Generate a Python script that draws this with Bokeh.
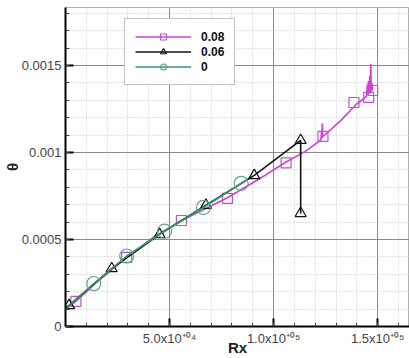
from bokeh.plotting import figure
from bokeh.models import FixedTicker, Range1d, Legend, LegendItem
from bokeh.embed import file_html
from bokeh.resources import INLINE

# ---- data ----
# series "0.08" (magenta): line and square markers
m_line_x = [0, 5000, 15000, 29400, 42000, 55700, 67000, 77800, 92000, 106000, 115000,
            122500, 122800, 123000, 123200, 123400, 123600, 124000, 132000, 140000, 143500,
            144700, 145000, 145200, 145600, 145800, 146200, 146400, 146700, 146900, 147200, 147600]
m_line_y = [0.000098, 0.000144, 0.000255, 0.000397, 0.000510, 0.000609, 0.000675, 0.000740, 0.000840, 0.000945, 0.001005,
            0.001070, 0.001080, 0.001120, 0.001080, 0.001167, 0.001090, 0.001095, 0.001180, 0.001280, 0.001310,
            0.001325, 0.001390, 0.001330, 0.001410, 0.001335, 0.001440, 0.001340, 0.001510, 0.001350, 0.001400, 0.001356]
m_mark_x = [5000, 29400, 55700, 77800, 106000, 123700, 138600, 145700, 147600]
m_mark_y = [0.000144, 0.000397, 0.000609, 0.000736, 0.000940, 0.001092, 0.001287, 0.001316, 0.001356]

# series "0.06" (black): line and triangle markers
b_line_x = [0, 1700, 22200, 45200, 67500, 90700, 113000, 113000]
b_line_y = [0.000105, 0.000121, 0.000333, 0.000529, 0.000697, 0.000868, 0.001070, 0.000650]
b_mark_x = [1700, 22200, 45200, 67500, 90700, 113000, 113000]
b_mark_y = [0.000121, 0.000333, 0.000529, 0.000697, 0.000868, 0.001070, 0.000650]

# series "0" (green): line and circle markers
g_line_x = [0, 1700, 13600, 29400, 47600, 66300, 84400, 87000]
g_line_y = [0.000100, 0.000118, 0.000247, 0.000405, 0.000548, 0.000684, 0.000822, 0.000840]
g_mark_x = [13600, 29400, 47600, 66300, 84400]
g_mark_y = [0.000247, 0.000405, 0.000548, 0.000684, 0.000822]

series_labels = ["0.08", "0.06", "0"]

x_ticks = [50000, 100000, 150000]
x_tick_labels = ["5.0x10\u207a\u2070\u2074", "1.0x10\u207a\u2070\u2075", "1.5x10\u207a\u2070\u2075"]
y_ticks = [0, 0.0005, 0.001, 0.0015]
y_tick_labels = ["0", "0.0005", "0.001", "0.0015"]
x_minor = [i * 10000 for i in range(0, 17)]
y_minor = [i * 0.0001 for i in range(0, 19)]
x_title = "Rx"
y_title = "\u03b8"

MAG = "#d43fd4"
MAG_M = "#b25ac8"
BLK = "#111111"
GRN = "#2f9a6c"
GRN_M = "#5da588"

p = figure(width=409, height=358, output_backend="svg", toolbar_location=None,
           x_range=Range1d(0, 165300), y_range=Range1d(0, 0.001833),
           min_border_left=64, min_border_right=0, min_border_top=7, min_border_bottom=32)

p.background_fill_color = "white"
p.border_fill_color = "white"
p.outline_line_color = "#b0b0b0"

for ax in (p.xaxis[0], p.yaxis[0]):
    ax.axis_line_color = "black"
    ax.axis_line_width = 2
    ax.major_tick_in = 8
    ax.major_tick_out = 0
    ax.major_tick_line_width = 2
    ax.minor_tick_in = 4
    ax.minor_tick_out = 0
    ax.minor_tick_line_color = "#444444"
    ax.major_label_text_font = "Liberation Sans"
    ax.major_label_text_font_size = "13px"
    ax.major_label_text_color = "#444444"
    ax.axis_label_text_font = "Liberation Sans"
    ax.axis_label_text_font_style = "bold"
    ax.axis_label_text_font_size = "15px"
    ax.axis_label_text_color = "#222222"

p.xaxis.ticker = FixedTicker(ticks=x_ticks, minor_ticks=x_minor)
p.yaxis.ticker = FixedTicker(ticks=y_ticks, minor_ticks=y_minor)
p.xaxis.major_label_overrides = dict(zip(x_ticks, x_tick_labels))
p.yaxis.major_label_overrides = dict(zip(y_ticks, y_tick_labels))
p.xaxis.major_label_standoff = 4
p.yaxis.major_label_standoff = 4
p.xaxis.axis_label = x_title
p.yaxis.axis_label = y_title
p.xaxis.axis_label_standoff = -10
p.yaxis.axis_label_standoff = -2

for g in (p.xgrid[0], p.ygrid[0]):
    g.grid_line_color = "#8a8a8a"
    g.grid_line_width = 1
    g.minor_grid_line_color = "#c4c4c4"
    g.minor_grid_line_dash = "1 2"
    g.minor_grid_line_width = 1

ml = p.line(m_line_x, m_line_y, line_color=MAG, line_width=1.6)
mm = p.scatter(m_mark_x, m_mark_y, marker="square", size=10, line_color=MAG_M,
               fill_alpha=0, line_width=1.2)
bl = p.line(b_line_x, b_line_y, line_color=BLK, line_width=1.6)
bm = p.scatter(b_mark_x, b_mark_y, marker="triangle", size=11, line_color=BLK,
               fill_color="white", fill_alpha=0, line_width=1.2)
gl = p.line(g_line_x, g_line_y, line_color=GRN, line_width=1.6)
gm = p.scatter(g_mark_x, g_mark_y, marker="circle", size=14, line_color=GRN_M,
               fill_alpha=0, line_width=1.2)

legend = Legend(items=[
    LegendItem(label=series_labels[0], renderers=[ml, mm]),
    LegendItem(label=series_labels[1], renderers=[bl, bm]),
    LegendItem(label=series_labels[2], renderers=[gl, gm]),
], location=(59, 241))
legend.glyph_width = 56
legend.glyph_height = 15
legend.label_height = 15
legend.spacing = 0
legend.padding = 10
legend.margin = 0
legend.label_standoff = 10
legend.label_text_font = "Liberation Sans"
legend.label_text_font_style = "bold"
legend.label_text_font_size = "12px"
legend.label_text_color = "#111111"
legend.border_line_color = "#888888"
legend.border_line_width = 1
legend.background_fill_alpha = 1
p.add_layout(legend, "center")

open("out.html", "w").write(file_html(p, INLINE))
